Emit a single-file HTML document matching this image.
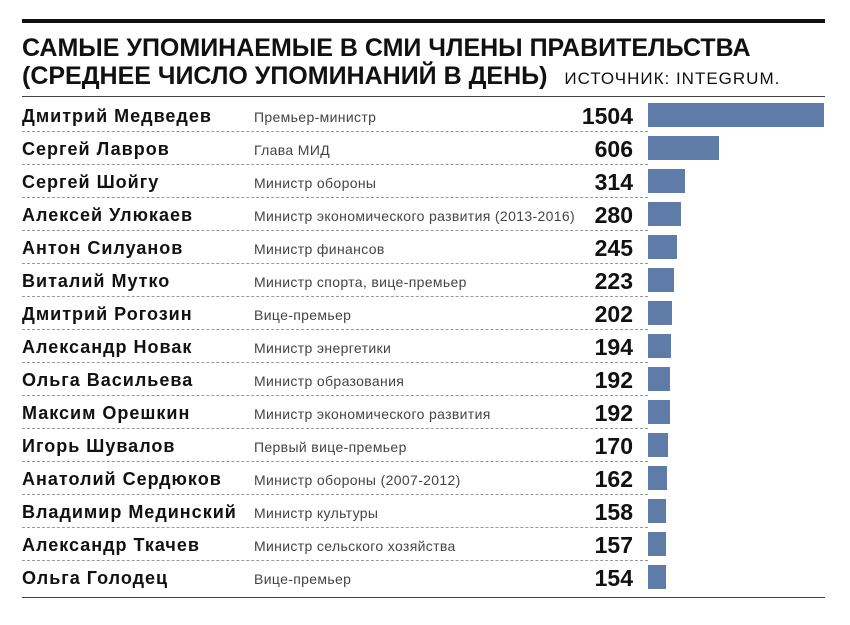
<!DOCTYPE html><html><head><meta charset="utf-8"><style>
body{margin:0;width:850px;height:625px;background:#fff;font-family:"Liberation Sans",sans-serif;position:relative;overflow:hidden}
.a{position:absolute}
.row{position:absolute;left:22px;width:626px;height:33px;border-bottom:1px dashed #999}
.n{position:absolute;left:0;top:8px;font-weight:bold;font-size:18px;letter-spacing:1px;color:#111}
.r{position:absolute;left:232px;top:11px;font-size:14px;letter-spacing:0.35px;color:#444}
.v{position:absolute;right:15px;top:5px;font-weight:bold;font-size:23px;color:#111}
.b{position:absolute;left:648px;height:24px;background:#5f7ca8}
</style></head><body>
<div class="a" style="left:22px;top:19px;width:803px;height:4px;background:#111"></div>
<div class="a" style="left:22px;top:34px;font-weight:bold;font-size:25px;line-height:28px;color:#111">САМЫЕ УПОМИНАЕМЫЕ В СМИ ЧЛЕНЫ ПРАВИТЕЛЬСТВА<br>(СРЕДНЕЕ ЧИСЛО УПОМИНАНИЙ В ДЕНЬ) <span style="font-weight:normal;font-size:17px;letter-spacing:1px;margin-left:10px">ИСТОЧНИК: INTEGRUM.</span></div>
<div class="a" style="left:22px;top:96px;width:803px;height:1px;background:#444"></div>
<div class="a" style="left:22px;top:597px;width:803px;height:1px;background:#444"></div>
<div id="c"></div>
<script>
var d=[["Дмитрий Медведев","Премьер-министр",1504],["Сергей Лавров","Глава МИД",606],["Сергей Шойгу","Министр обороны",314],["Алексей Улюкаев","Министр экономического развития (2013-2016)",280],["Антон Силуанов","Министр финансов",245],["Виталий Мутко","Министр спорта, вице-премьер",223],["Дмитрий Рогозин","Вице-премьер",202],["Александр Новак","Министр энергетики",194],["Ольга Васильева","Министр образования",192],["Максим Орешкин","Министр экономического развития",192],["Игорь Шувалов","Первый вице-премьер",170],["Анатолий Сердюков","Министр обороны (2007-2012)",162],["Владимир Мединский","Министр культуры",158],["Александр Ткачев","Министр сельского хозяйства",157],["Ольга Голодец","Вице-премьер",154]];
var h="";d.forEach(function(x,i){var t=98+i*33;
h+='<div class="row" style="top:'+t+'px;'+(i==14?'border-bottom:none':'')+'"><div class="n">'+x[0]+'</div><div class="r">'+x[1]+'</div><div class="v">'+x[2]+'</div></div>';
h+='<div class="b" style="top:'+(t+5)+'px;width:'+Math.round(x[2]/1504*176)+'px"></div>';});
document.getElementById("c").innerHTML=h;
</script></body></html>
